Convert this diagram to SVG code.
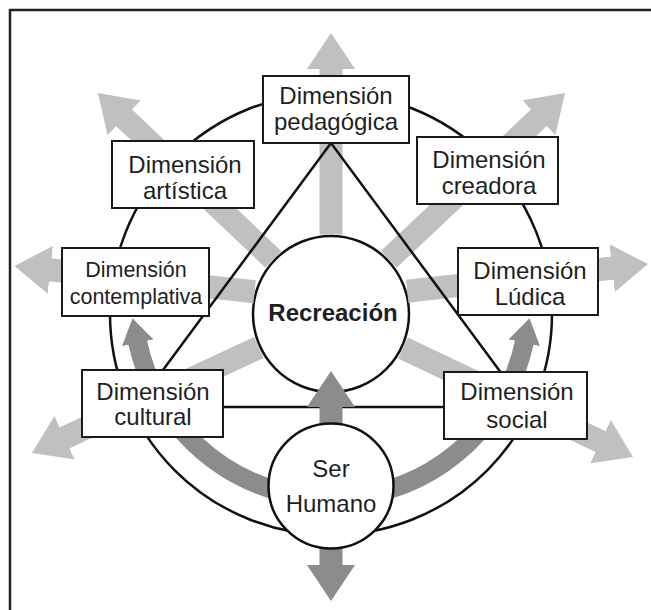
<svg xmlns="http://www.w3.org/2000/svg" width="651" height="610" viewBox="0 0 651 610">
<style>
.box{fill:#fff;stroke:#1a1a1a;stroke-width:2}
.node{fill:#fff;stroke:#111;stroke-width:2.5}
.t{font-family:"Liberation Sans",Arial,sans-serif;font-size:24px;fill:#1f1f1f;text-anchor:middle}
.ts{font-size:21.5px}
.b{font-weight:bold}
.la{stroke:#c0c0c0;stroke-width:23;fill:none;marker-end:url(#hl)}
.da{stroke:#8c8c8c;stroke-width:23;fill:none;marker-end:url(#hd)}
.dc{stroke:#8c8c8c;stroke-width:19;fill:none;marker-end:url(#hc)}
.ln{stroke:#111;stroke-width:2.5;fill:none}
</style>
<defs>
<marker id="hl" markerUnits="userSpaceOnUse" viewBox="0 0 36 48" markerWidth="36" markerHeight="48" refX="1" refY="24" orient="auto"><path d="M0,0 L36,24 L0,48 Z" fill="#c0c0c0"/></marker>
<marker id="hd" markerUnits="userSpaceOnUse" viewBox="0 0 36 48" markerWidth="36" markerHeight="48" refX="1" refY="24" orient="auto"><path d="M0,0 L36,24 L0,48 Z" fill="#8c8c8c"/></marker>
<marker id="hc" markerUnits="userSpaceOnUse" viewBox="0 0 25 32" markerWidth="25" markerHeight="32" refX="1" refY="16" orient="auto"><path d="M0,0 L25,16 L0,32 Z" fill="#8c8c8c"/></marker>
</defs>
<rect x="10" y="10" width="700" height="700" fill="none" stroke="#222" stroke-width="2.5"/>
<g id="ring"><circle cx="331" cy="314" r="221" class="ln"/></g>
<g id="recreacion"><circle cx="331" cy="314" r="78" class="node"/><text class="t b" x="333" y="321">Recreación</text></g>
<g id="connectors">
<line class="la" x1="331" y1="234.5" x2="331" y2="68"/>
<line class="la" x1="273.3" y1="259.3" x2="123.4" y2="117.1"/>
<line class="la" x1="388.8" y1="259.4" x2="539.6" y2="117"/>
<line class="la" x1="254.6" y1="291.8" x2="49.3" y2="269.7"/>
<line class="la" x1="407.2" y1="291.3" x2="613.2" y2="268"/>
<line class="la" x1="258.9" y1="347.5" x2="63.7" y2="438.2"/>
<line class="la" x1="402.9" y1="348" x2="601.4" y2="442"/>
<polygon class="ln" points="331,143 135.6,407 526.4,407"/>
<path class="dc" d="M300,495.6 A198,198 0 0 1 137.5,341.8"/>
<path class="dc" d="M362,495.6 A198,198 0 0 0 524.5,341.8"/>
<line class="da" x1="331" y1="540" x2="331" y2="566"/>
<line class="da" x1="331" y1="440" x2="331" y2="406"/>
</g>
<g id="pedagogica"><rect class="box" x="263" y="76" width="146" height="67"/><text class="t" x="336" y="103.5">Dimensión</text><text class="t" x="336" y="130">pedagógica</text></g>
<g id="artistica"><rect class="box" x="112" y="141" width="142" height="67"/><text class="t" x="185" y="173">Dimensión</text><text class="t" x="185" y="199">artística</text></g>
<g id="creadora"><rect class="box" x="417" y="137" width="141" height="67"/><text class="t" x="489" y="167.5">Dimensión</text><text class="t" x="489" y="193.5">creadora</text></g>
<g id="contemplativa"><rect class="box" x="62" y="248" width="147" height="68"/><text class="t ts" x="136" y="277">Dimensión</text><text class="t ts" x="136" y="303.5">contemplativa</text></g>
<g id="ludica"><rect class="box" x="458" y="248" width="140" height="67"/><text class="t" x="530" y="278.5">Dimensión</text><text class="t" x="530" y="305">Lúdica</text></g>
<g id="cultural"><rect class="box" x="82" y="370" width="141" height="67"/><text class="t" x="153" y="399.5">Dimensión</text><text class="t" x="153" y="425">cultural</text></g>
<g id="social"><rect class="box" x="444" y="372" width="143" height="67"/><text class="t" x="517" y="400">Dimensión</text><text class="t" x="517" y="428">social</text></g>
<g id="ser-humano"><circle cx="331" cy="486" r="62.5" class="node"/><text class="t" x="331" y="477">Ser</text><text class="t" x="331" y="512">Humano</text></g>
</svg>
